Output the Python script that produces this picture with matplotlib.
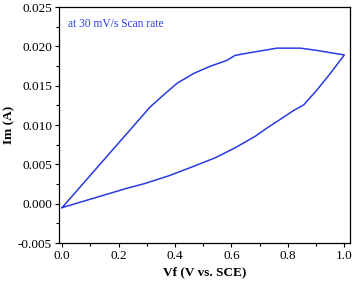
import matplotlib
matplotlib.use("Agg")
import matplotlib.pyplot as plt
from matplotlib.ticker import MultipleLocator

# Forward (upper) sweep
v_fwd = [0.0, 0.234, 0.312, 0.359, 0.407, 0.466, 0.525, 0.584, 0.613, 0.667,
         0.714, 0.761, 0.844, 0.903, 0.950, 1.0]
i_fwd = [-0.0005, 0.0091, 0.0123, 0.0138, 0.0153, 0.01655, 0.01747, 0.01822, 0.01885, 0.0192,
         0.01948, 0.01977, 0.01977, 0.01948, 0.0192, 0.0189]
# Reverse (lower) sweep
v_rev = [1.0, 0.950, 0.903, 0.856, 0.820, 0.785, 0.726, 0.684, 0.613, 0.543, 0.460,
         0.377, 0.294, 0.230, 0.0]
i_rev = [0.0189, 0.01655, 0.01445, 0.01256, 0.01184, 0.0110, 0.00962, 0.00856, 0.0071, 0.00584,
         0.00466, 0.00353, 0.00257, 0.00196, -0.0005]

plt.rcParams['font.family'] = ['Liberation Serif', 'DejaVu Serif']

fig = plt.figure(figsize=(3.54, 2.84), dpi=100)
ax = fig.add_axes([59/354, 1-243/284, (350-59)/354, (243-7)/284])

color = '#2a3ae0'
ax.plot(v_fwd + v_rev[1:], i_fwd + i_rev[1:], color=color, lw=1.1)

ax.set_xlim(-0.011, 1.02)
ax.set_ylim(-0.005, 0.025)
ax.xaxis.set_minor_locator(MultipleLocator(0.1))
ax.yaxis.set_minor_locator(MultipleLocator(0.0025))
ax.set_xticks([0.0, 0.2, 0.4, 0.6, 0.8, 1.0])
ax.set_xticklabels(['0.0', '0.2', '0.4', '0.6', '0.8', '1.0'])
ax.set_yticks([-0.005, 0.0, 0.005, 0.010, 0.015, 0.020, 0.025])
ax.set_yticklabels(['-0.005', '0.000', '0.005', '0.010', '0.015', '0.020', '0.025'])
ax.tick_params(which='major', direction='out', length=3, width=0.8, labelsize=9.5, pad=2)
ax.tick_params(which='minor', direction='out', length=2, width=0.8)
for s in ax.spines.values():
    s.set_linewidth(0.9)

ax.set_xlabel('Vf (V vs. SCE)', fontsize=9.5, fontweight='bold', labelpad=3)
ax.set_ylabel('Im (A)', fontsize=9.5, fontweight='bold', labelpad=2)
ax.text(0.03, 0.93, 'at 30 mV/s Scan rate', transform=ax.transAxes, color=color,
        fontsize=8.3, va='center', ha='left')

fig.savefig('out.png', dpi=100)
